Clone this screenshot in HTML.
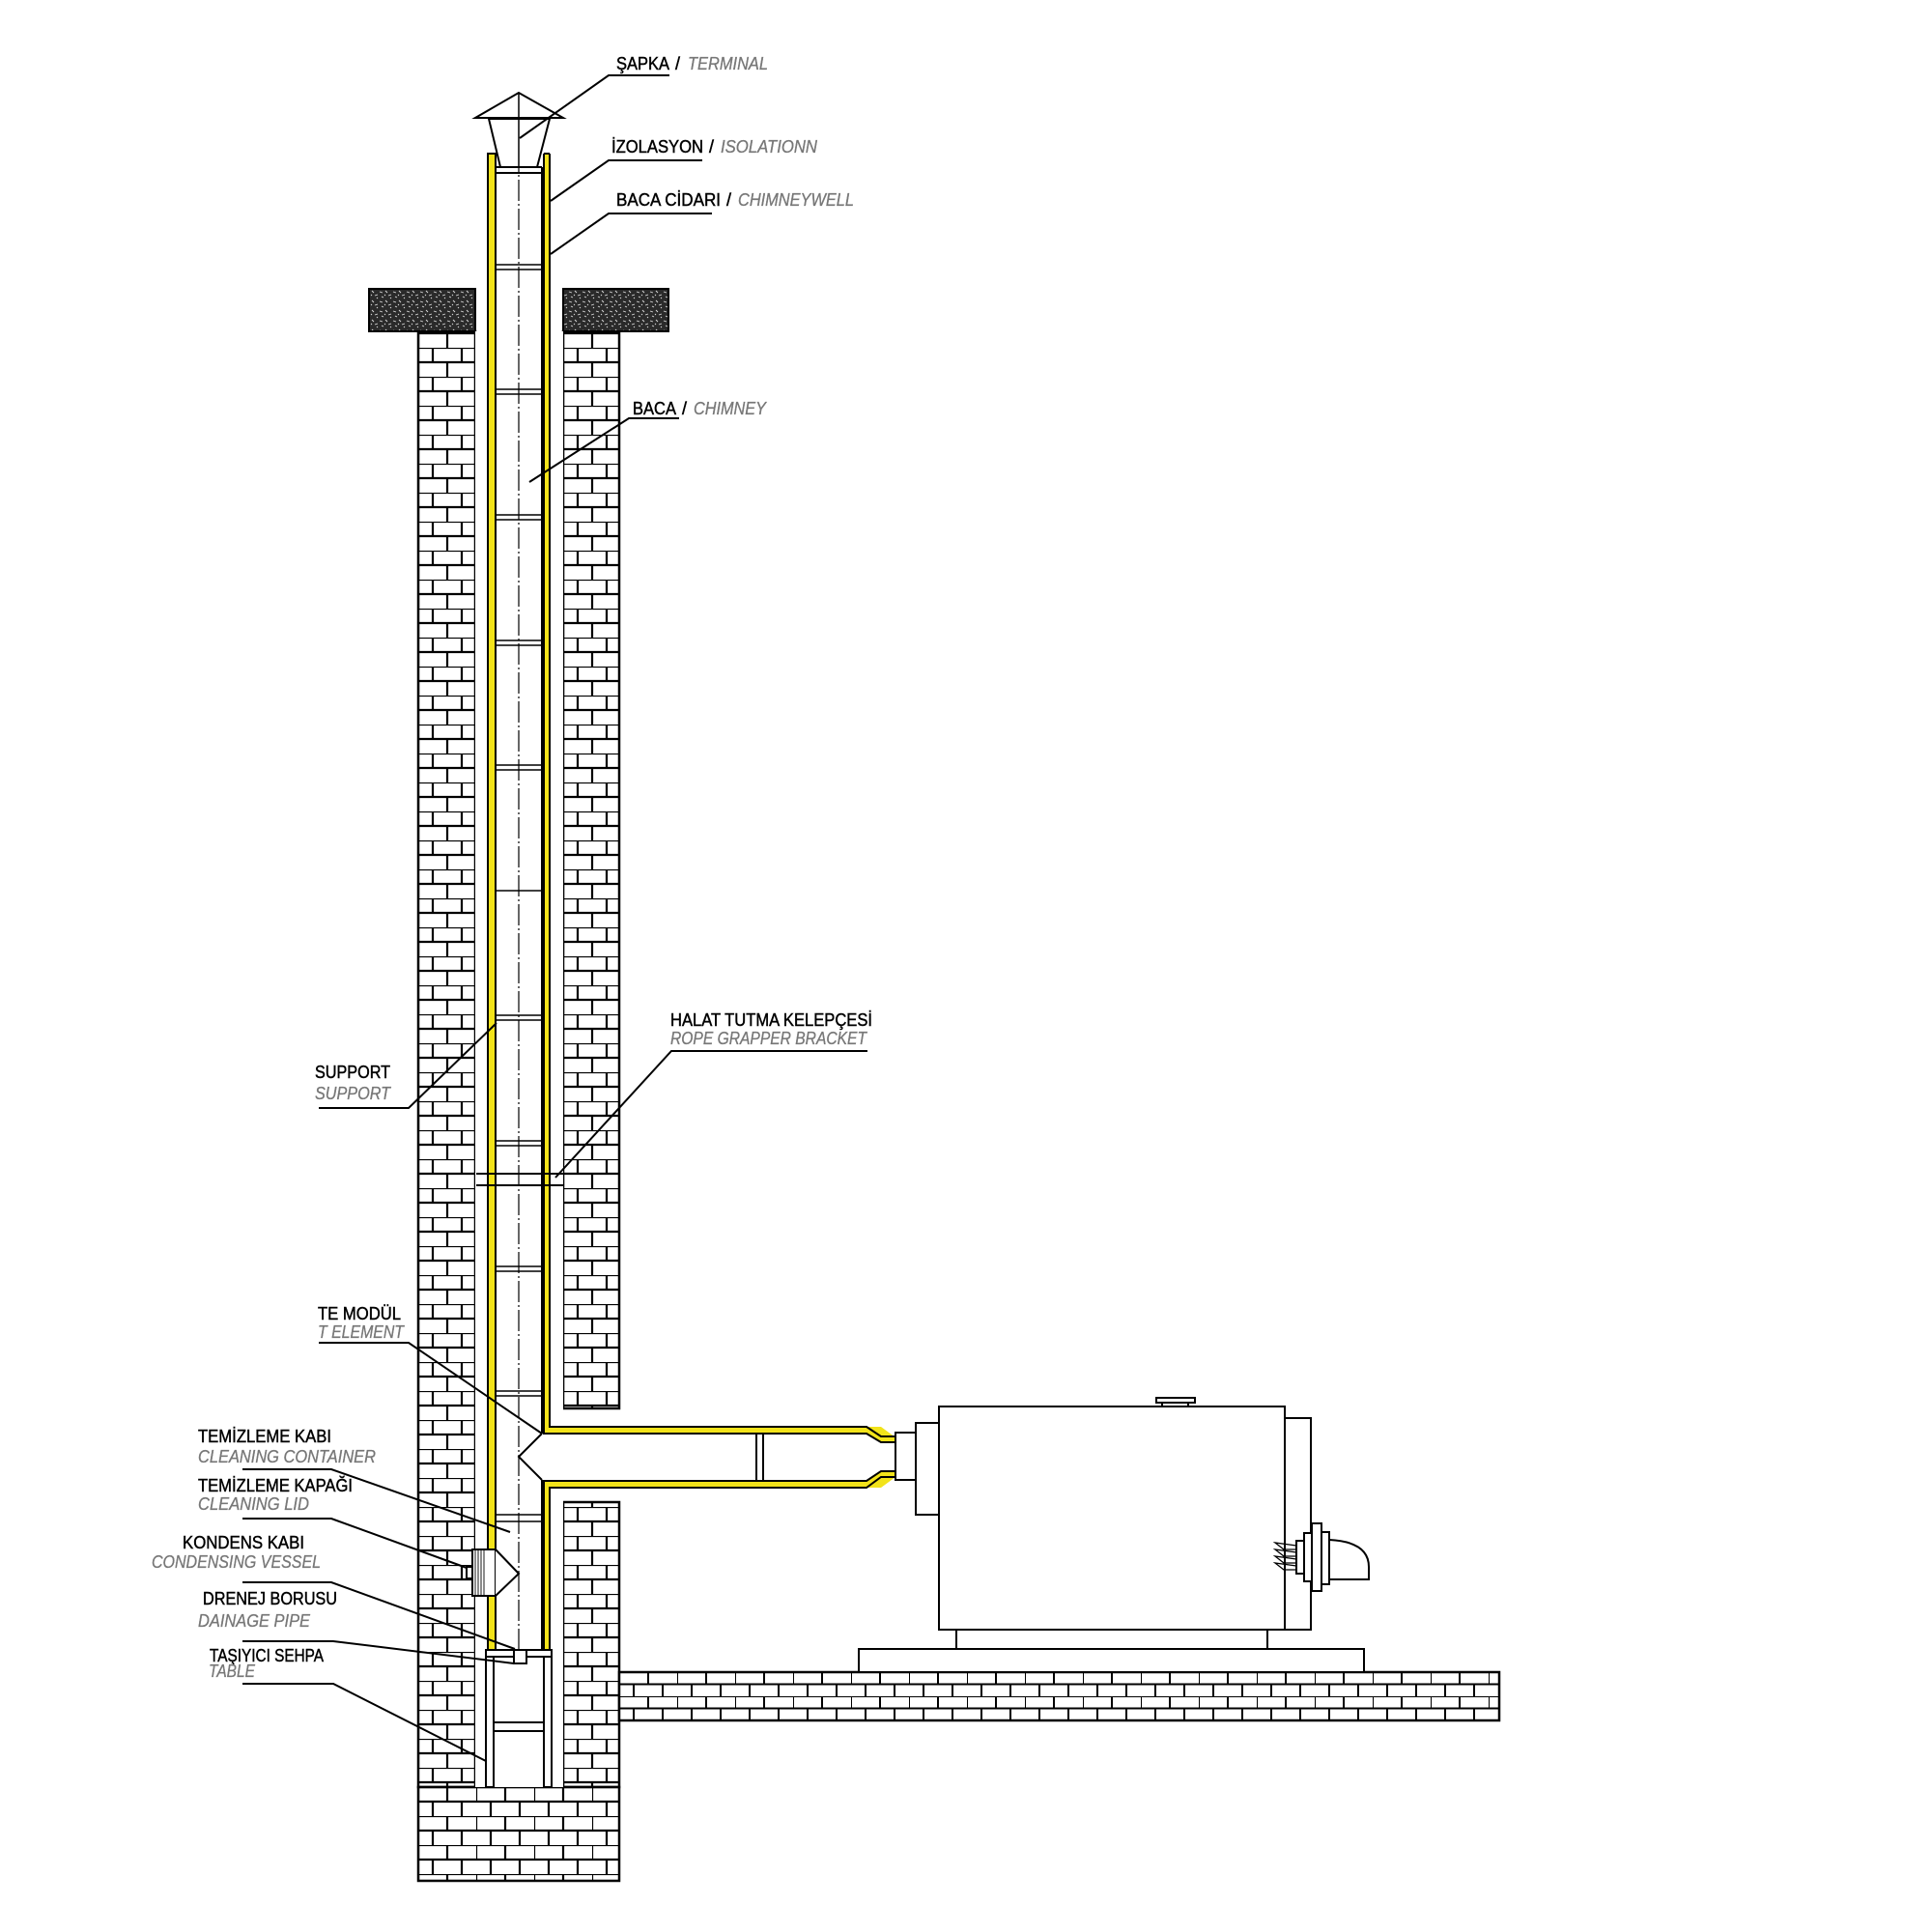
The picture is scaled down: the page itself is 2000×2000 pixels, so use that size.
<!DOCTYPE html>
<html><head><meta charset="utf-8"><style>
html,body{margin:0;padding:0;background:#fff;}
svg{display:block;}
.b{font-family:"Liberation Sans",sans-serif;font-size:18px;fill:#000;stroke:#000;stroke-width:0.45;}
.g{font-family:"Liberation Sans",sans-serif;font-size:18px;fill:#777;stroke:#777;stroke-width:0.3;font-style:italic;}
</style></head><body>
<svg width="2000" height="2000" viewBox="0 0 2000 2000" xmlns="http://www.w3.org/2000/svg">
<defs>
<pattern id="brL" patternUnits="userSpaceOnUse" x="433" y="0" width="59" height="30">
<rect width="59" height="30" fill="#fff"/>
<path d="M0 0H59M0 15H59M15 0V15M45 0V15M0 15V30M30 15V30" stroke="#000" stroke-width="2.2" fill="none"/>
</pattern>
<pattern id="brR" patternUnits="userSpaceOnUse" x="583" y="0" width="58" height="30">
<rect width="58" height="30" fill="#fff"/>
<path d="M0 0H58M0 15H58M15 0V15M45 0V15M0 15V30M30 15V30" stroke="#000" stroke-width="2.2" fill="none"/>
</pattern>
<pattern id="brB" patternUnits="userSpaceOnUse" x="433" y="1850" width="60" height="30">
<rect width="60" height="30" fill="#fff"/>
<path d="M0 0H60M0 15H60M0 0V15M30 0V15M15 15V30M45 15V30" stroke="#000" stroke-width="2.2" fill="none"/>
</pattern>
<pattern id="brF" patternUnits="userSpaceOnUse" x="641" y="1731" width="60" height="25">
<rect width="60" height="25" fill="#fff"/>
<path d="M0 0H60M0 12.5H60M0 0V12.5M30 0V12.5M15 12.5V25M45 12.5V25" stroke="#000" stroke-width="2" fill="none"/>
</pattern>
<pattern id="slab" patternUnits="userSpaceOnUse" width="14" height="10">
<rect width="14" height="10" fill="#2a2a2a"/>
<path d="M1 2l3 1M7 1l2 2M10 6l3-1M3 7l2 1M6 5l1 1M12 9l1-1" stroke="#ddd" stroke-width="0.9"/>
</pattern>
</defs>

<rect x="433" y="343" width="59" height="1507" fill="url(#brL)" stroke="#000" stroke-width="2.5"/>
<rect x="583" y="343" width="58" height="1115" fill="url(#brR)" stroke="#000" stroke-width="2.5"/>
<rect x="583" y="1555" width="58" height="295" fill="url(#brR)" stroke="#000" stroke-width="2.5"/>
<rect x="433" y="1850" width="208" height="97" fill="url(#brB)" stroke="#000" stroke-width="2.5"/>
<rect x="641" y="1731" width="911" height="50" fill="url(#brF)" stroke="#000" stroke-width="2.5"/>
<rect x="382" y="299" width="110" height="44" fill="url(#slab)" stroke="#000" stroke-width="2"/>
<rect x="583" y="299" width="109" height="44" fill="url(#slab)" stroke="#000" stroke-width="2"/>

<rect x="492" y="343" width="91" height="1507" fill="#fff"/>
<rect x="505" y="159" width="64" height="1549" fill="#fff"/>

<rect x="505" y="159" width="8" height="1549" fill="#f2e31a" stroke="#000" stroke-width="2"/>
<rect x="563" y="159" width="6" height="1325" fill="#f2e31a"/>
<rect x="563" y="1477" width="335" height="7" fill="#f2e31a"/>
<rect x="563" y="1533" width="6" height="175" fill="#f2e31a"/>
<rect x="563" y="1533" width="335" height="7" fill="#f2e31a"/>
<polygon points="897,1477 912,1477 927,1488 927,1493 912,1493 897,1484" fill="#f2e31a"/>
<polygon points="897,1533 912,1523 927,1523 927,1529 912,1540 897,1540" fill="#f2e31a"/>
<g fill="none" stroke="#000" stroke-width="2">
<path d="M569 159 V1477 H897 L912 1487 H927"/>
<path d="M563 159 V1484 H897 L912 1493 H927"/>
<path d="M563 1708 V1533 H897 L912 1523 H927"/>
<path d="M569 1708 V1540 H897 L912 1529 H927"/>
<path d="M505 159 V1708 M513 159 V1708 M505 159 H513 M563 159 H569"/>
</g>
<g stroke="#000" stroke-width="2" fill="none">
<path d="M513 173 H561 M513 179 H561 M561 173 V1484 M561 1532 V1708"/>
<path d="M561 1484 L537 1508 L561 1532"/>
<path d="M783 1484 V1533 M790 1484 V1533"/>
</g>
<g stroke="#000" stroke-width="1.6">
<path d="M513 274H561M513 279H561M513 403H561M513 408H561M513 533H561M513 538H561M513 663H561M513 668H561M513 792H561M513 797H561M513 922H561M513 1051H561M513 1056H561M513 1181H561M513 1186H561M513 1311H561M513 1316H561M513 1440H561M513 1445H561M513 1568H561M513 1575H561"/>
</g>
<line x1="537" y1="96" x2="537" y2="1708" stroke="#000" stroke-width="1.2" stroke-dasharray="22 3 2 3"/>

<g stroke="#000" stroke-width="2" fill="#fff">
<polygon points="537,96 492,122 583,122"/>
<polygon points="506,123 569,123 556,173 518,173"/>
</g>
<line x1="537" y1="96" x2="537" y2="173" stroke="#000" stroke-width="1.5"/>

<g stroke="#000" stroke-width="2" fill="none"><path d="M493 1215H583M493 1227H583"/></g>

<g stroke="#000" stroke-width="2" fill="#fff">
<rect x="489" y="1604" width="24" height="48"/>
<path d="M513 1604 L537 1629 L513 1652"/>
<rect x="483" y="1622" width="6" height="12"/>
</g>
<g stroke="#000" stroke-width="0.9"><path d="M492 1604V1652M495 1604V1652M498 1604V1652M501 1604V1652"/></g>

<g stroke="#000" stroke-width="2" fill="#fff">
<rect x="503" y="1708" width="68" height="7"/>
<rect x="503" y="1715" width="8" height="135"/>
<rect x="563" y="1715" width="8" height="135"/>
<path d="M511 1783H563M511 1792H563" fill="none"/>
<rect x="532" y="1708" width="13" height="14"/>
</g>

<g stroke="#000" stroke-width="2" fill="#fff">
<rect x="927" y="1483" width="21" height="49"/>
<rect x="948" y="1473" width="24" height="95"/>
<rect x="972" y="1456" width="358" height="231"/>
<rect x="1197" y="1447" width="40" height="5"/>
<rect x="1203" y="1452" width="27" height="4"/>
<rect x="1330" y="1468" width="27" height="219"/>
<rect x="990" y="1687" width="322" height="20"/>
<rect x="889" y="1707" width="523" height="24"/>
<rect x="1342" y="1595" width="8" height="34"/>
<rect x="1350" y="1587" width="8" height="50"/>
<rect x="1358" y="1577" width="10" height="70"/>
<rect x="1368" y="1586" width="8" height="54"/>
<path d="M1376 1594 Q1417 1596 1417 1622 V1635 H1376 Z"/>
</g>
<g stroke="#000" stroke-width="1.3" fill="none">
<path d="M1342 1600 L1320 1597 L1329 1604 H1342 M1342 1607 L1320 1604 L1329 1611 H1342 M1342 1614 L1320 1611 L1329 1618 H1342 M1342 1621 L1320 1618 L1329 1625 H1342"/>
</g>

<g stroke="#000" stroke-width="2" fill="none">
<path d="M693 78 H630 L538 143"/>
<path d="M727 166 H630 L570 208"/>
<path d="M737 221 H630 L570 263"/>
<path d="M703 433 H651 L548 499"/>
<path d="M898 1088 H695 L575 1219"/>
<path d="M330 1147 H423 L514 1059"/>
<path d="M330 1390 H423 L561 1484"/>
<path d="M251 1521 H343 L528 1586"/>
<path d="M251 1572 H343 L483 1623"/>
<path d="M251 1638 H343 L533 1707"/>
<path d="M251 1699 H345 L532 1722"/>
<path d="M251 1743 H345 L503 1823"/>
</g>

<text class="b" x="638" y="72" textLength="55" lengthAdjust="spacingAndGlyphs">ŞAPKA</text>
<text class="b" x="699" y="72">/</text>
<text class="g" x="712" y="72" textLength="83" lengthAdjust="spacingAndGlyphs">TERMINAL</text>
<text class="b" x="633" y="158" textLength="95" lengthAdjust="spacingAndGlyphs">İZOLASYON</text>
<text class="b" x="734" y="158">/</text>
<text class="g" x="746" y="158" textLength="100" lengthAdjust="spacingAndGlyphs">ISOLATIONN</text>
<text class="b" x="638" y="213" textLength="108" lengthAdjust="spacingAndGlyphs">BACA CİDARI</text>
<text class="b" x="752" y="213">/</text>
<text class="g" x="764" y="213" textLength="120" lengthAdjust="spacingAndGlyphs">CHIMNEYWELL</text>
<text class="b" x="655" y="429" textLength="45" lengthAdjust="spacingAndGlyphs">BACA</text>
<text class="b" x="706" y="429">/</text>
<text class="g" x="718" y="429" textLength="75" lengthAdjust="spacingAndGlyphs">CHIMNEY</text>
<text class="b" x="694" y="1062" textLength="209" lengthAdjust="spacingAndGlyphs">HALAT TUTMA KELEPÇESİ</text>
<text class="g" x="694" y="1081" textLength="203" lengthAdjust="spacingAndGlyphs">ROPE GRAPPER BRACKET</text>
<text class="b" x="326" y="1116" textLength="78" lengthAdjust="spacingAndGlyphs">SUPPORT</text>
<text class="g" x="326" y="1138" textLength="78" lengthAdjust="spacingAndGlyphs">SUPPORT</text>
<text class="b" x="329" y="1366" textLength="86" lengthAdjust="spacingAndGlyphs">TE MODÜL</text>
<text class="g" x="329" y="1385" textLength="89" lengthAdjust="spacingAndGlyphs">T ELEMENT</text>
<text class="b" x="205" y="1493" textLength="138" lengthAdjust="spacingAndGlyphs">TEMİZLEME KABI</text>
<text class="g" x="205" y="1514" textLength="184" lengthAdjust="spacingAndGlyphs">CLEANING CONTAINER</text>
<text class="b" x="205" y="1544" textLength="160" lengthAdjust="spacingAndGlyphs">TEMİZLEME KAPAĞI</text>
<text class="g" x="205" y="1563" textLength="115" lengthAdjust="spacingAndGlyphs">CLEANING LID</text>
<text class="b" x="189" y="1603" textLength="126" lengthAdjust="spacingAndGlyphs">KONDENS KABI</text>
<text class="g" x="157" y="1623" textLength="175" lengthAdjust="spacingAndGlyphs">CONDENSING VESSEL</text>
<text class="b" x="210" y="1661" textLength="139" lengthAdjust="spacingAndGlyphs">DRENEJ BORUSU</text>
<text class="g" x="205" y="1684" textLength="116" lengthAdjust="spacingAndGlyphs">DAINAGE PIPE</text>
<text class="b" x="217" y="1720" textLength="118" lengthAdjust="spacingAndGlyphs">TAŞIYICI SEHPA</text>
<text class="g" x="216" y="1736" textLength="48" lengthAdjust="spacingAndGlyphs">TABLE</text>
</svg>
</body></html>
